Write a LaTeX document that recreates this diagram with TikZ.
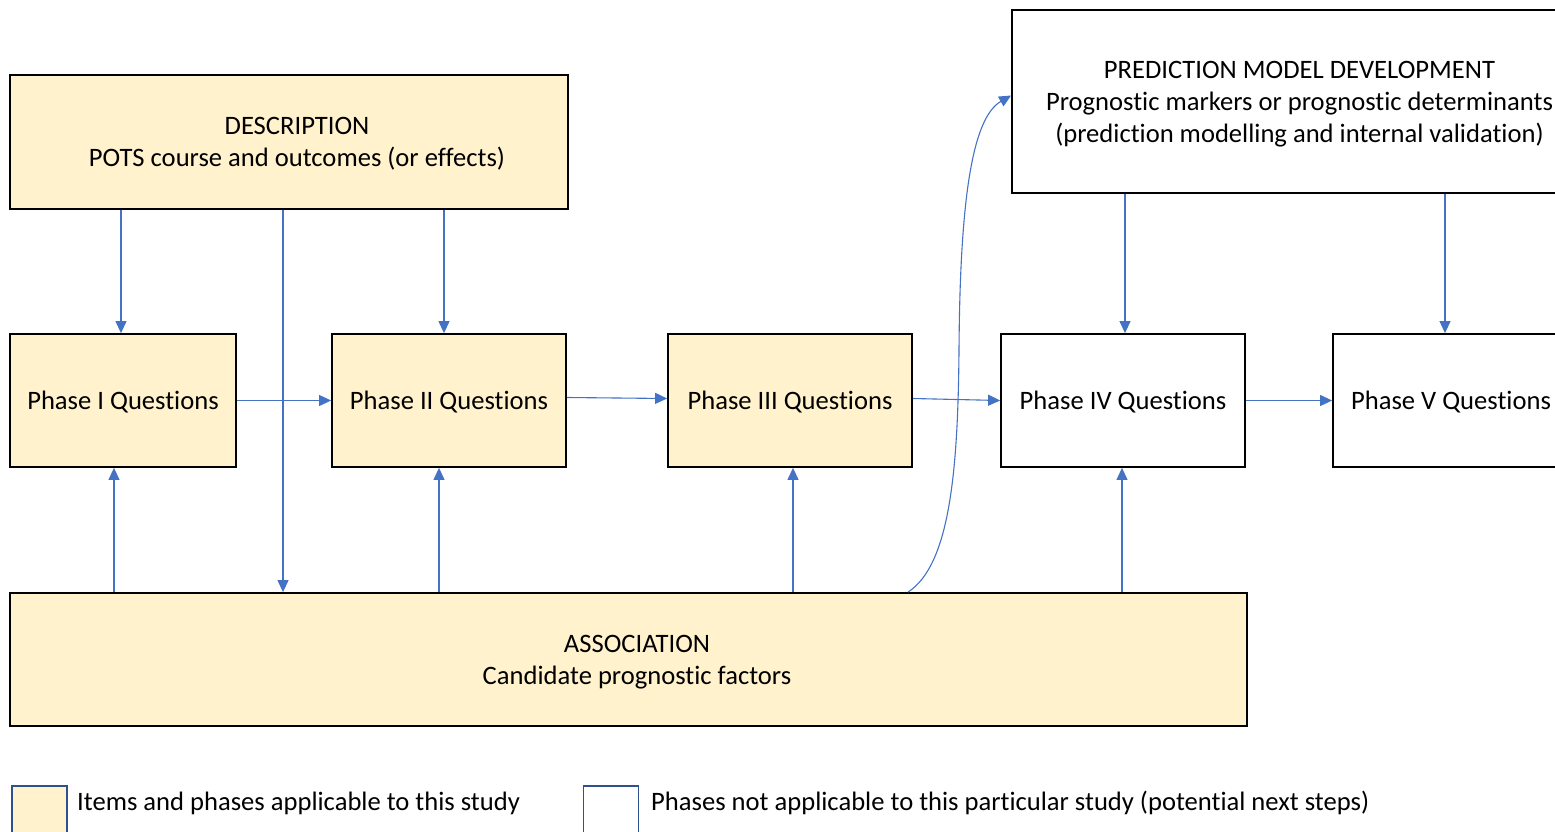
\documentclass[tikz,border=0pt]{standalone}
\usepackage{fontspec}
\setmainfont[Ligatures=NoCommon]{Carlito}
\usetikzlibrary{arrows.meta,calc}
\definecolor{boxyellow}{HTML}{FFF2CC}
\definecolor{arrowblue}{HTML}{4472C4}
\definecolor{legendblue}{HTML}{2F528F}
\tikzset{
  phasebox/.style={draw=black, line width=1.8pt, rectangle, align=center, inner sep=0pt,
    font=\fontsize{26.6}{32}\selectfont, text depth=0pt},
  applies/.style={phasebox, fill=boxyellow},
  later/.style={phasebox, fill=white},
  flow/.style={draw=arrowblue, line width=1.1pt, -{Triangle[length=12pt,width=11pt]}},
  keybox/.style={draw=legendblue, line width=1.5pt, minimum width=55pt, minimum height=56pt, inner sep=0pt},
  keytext/.style={anchor=west, inner sep=0pt, font=\fontsize{26.6}{32}\selectfont}
}
\begin{document}
\begin{tikzpicture}[x=1pt, y=-1pt]
            \useasboundingbox (0,0) rectangle (1555,832);
            \clip (0,0) rectangle (1555,832);
            % Top boxes
            \node[applies, minimum width=558pt, minimum height=134pt] (desc) at (289,142) {\hspace*{16pt}DESCRIPTION\\\hspace*{16pt}POTS course and outcomes (or effects)};
            \node[later, minimum width=575pt, minimum height=183pt] (pred) at (1299.5,101.5) {PREDICTION MODEL DEVELOPMENT\\Prognostic markers or prognostic determinants\\(prediction modelling and internal validation)};
            % Phase boxes
            \node[applies, minimum width=226pt, minimum height=133pt] (p1) at (123,400.5) {Phase I Questions};
            \node[applies, minimum width=234pt, minimum height=133pt] (p2) at (449,400.5) {Phase II Questions};
            \node[applies, minimum width=244pt, minimum height=133pt] (p3) at (790,400.5) {Phase III Questions};
            \node[later, minimum width=244pt, minimum height=133pt] (p4) at (1123,400.5) {Phase IV Questions};
            \node[later, minimum width=236pt, minimum height=133pt] (p5) at (1451,400.5) {Phase V Questions};
            % Bottom box
            \node[applies, minimum width=1237pt, minimum height=133pt] (assoc) at (628.5,659.5) {\hspace*{17pt}ASSOCIATION\\\hspace*{17pt}Candidate prognostic factors};
            % Arrows from the top
            \coordinate (down) at (283,0);
            \draw[flow] ([xshift=-2pt]desc.south -| p1) -- ([xshift=-2pt]p1.north);
            \draw[flow] (desc.south -| down) -- (assoc.north -| down);
            \draw[flow] ([xshift=-5pt]desc.south -| p2) -- ([xshift=-5pt]p2.north);
            \draw[flow] ([xshift=2pt]pred.south -| p4) -- ([xshift=2pt]p4.north);
            \draw[flow] ([xshift=-6pt]pred.south -| p5) -- ([xshift=-6pt]p5.north);
            % Arrows along the phases
            \draw[flow] (p1) -- (p2);
            \draw[flow] ([yshift=3pt]p2.east) -- ([yshift=2pt]p3.west);
            \draw[flow] ([yshift=2pt]p3.east) -- (p4.west);
            \draw[flow] (p4) -- (p5);
            % Arrows from association
            \draw[flow] ([xshift=-9pt]assoc.north -| p1) -- ([xshift=-9pt]p1.south);
            \draw[flow] ([xshift=-10pt]assoc.north -| p2) -- ([xshift=-10pt]p2.south);
            \draw[flow] ([xshift=3pt]assoc.north -| p3) -- ([xshift=3pt]p3.south);
            \draw[flow] ([xshift=-1pt]assoc.north -| p4) -- ([xshift=-1pt]p4.south);
            \coordinate (bend) at (908,0);
            \draw[flow] (assoc.north -| bend) .. controls (950,565) and (958,470) .. (959,350)
              .. controls (960,200) and (972,118) .. ([yshift=6pt]pred.west);
            % Legend
            \node[keybox, fill=boxyellow] (key1) at (39.5,814) {};
            \node[keytext] (key1text) at (77,803) {Items and phases applicable to this study};
            \node[keybox, fill=white] (key2) at (611,814) {};
            \node[keytext] (key2text) at (651,803) {Phases not applicable to this particular study (potential next steps)};
        \end{tikzpicture}
\end{document}
